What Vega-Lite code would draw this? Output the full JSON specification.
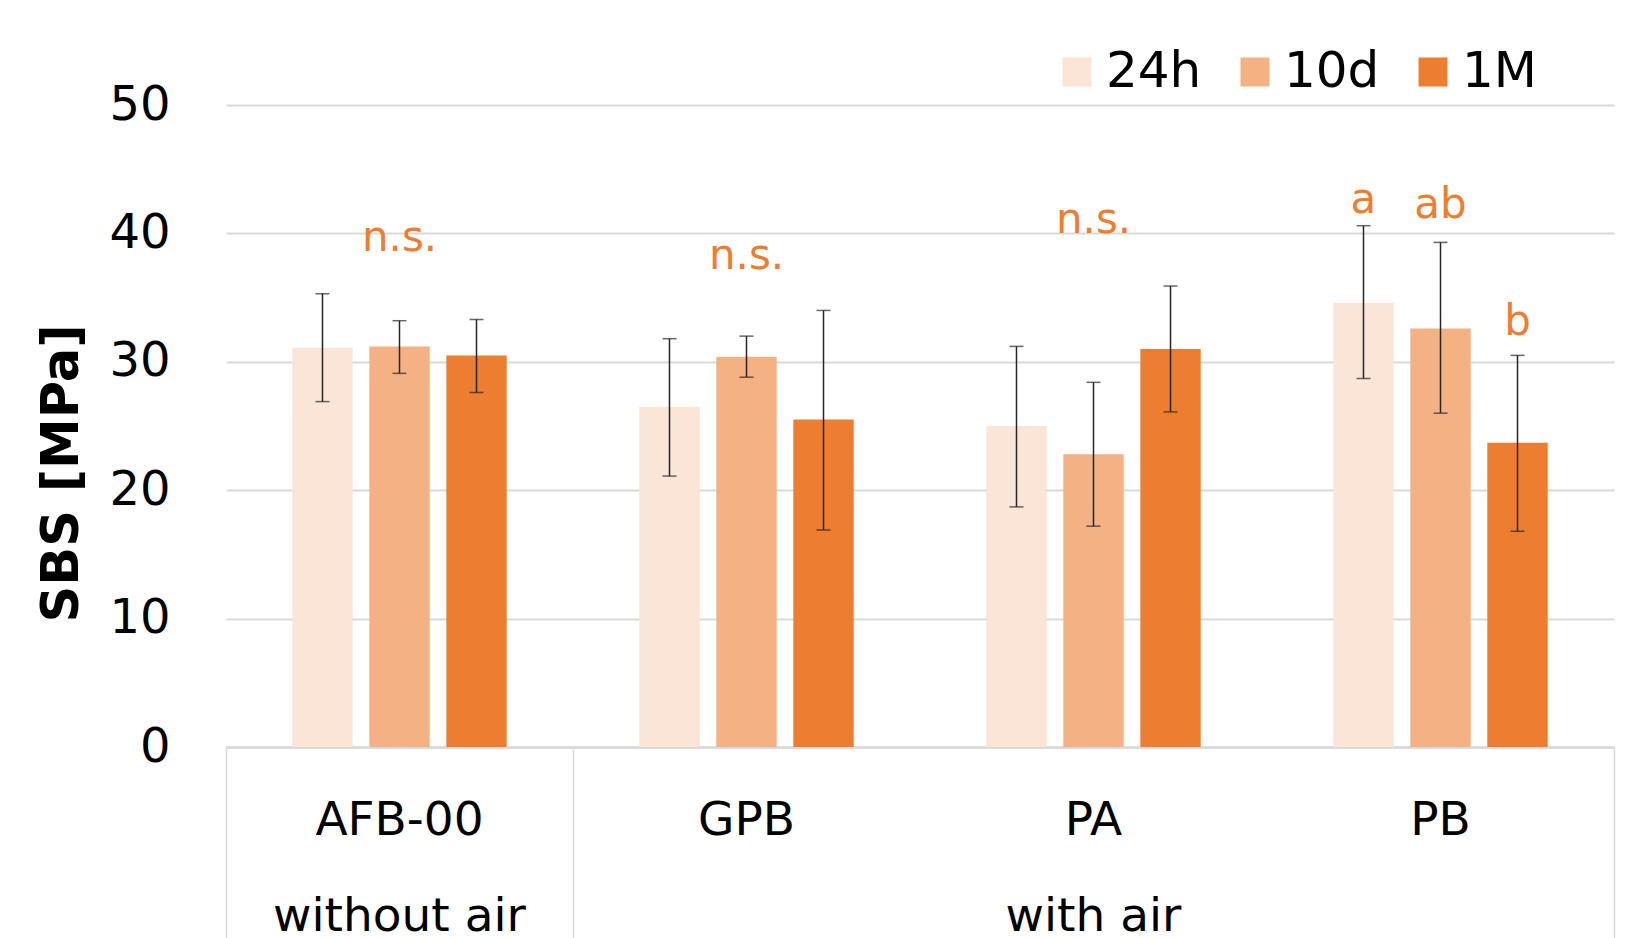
{
  "$schema": "https://vega.github.io/schema/vega-lite/v6.json",
  "width": 1388,
  "height": 642,
  "autosize": {"type": "none"},
  "padding": {"left": 226, "top": 105, "right": 17, "bottom": 191},
  "background": "white",
  "config": {"view": {"stroke": null}, "font": "DejaVu Sans"},
  "datasets": {
    "bars": [
      {"group": "AFB-00", "time": "24h", "mean": 31.1, "lo": 26.9, "hi": 35.3},
      {"group": "AFB-00", "time": "10d", "mean": 31.2, "lo": 29.1, "hi": 33.2},
      {"group": "AFB-00", "time": "1M", "mean": 30.5, "lo": 27.6, "hi": 33.3},
      {"group": "GPB", "time": "24h", "mean": 26.5, "lo": 21.1, "hi": 31.8},
      {"group": "GPB", "time": "10d", "mean": 30.4, "lo": 28.8, "hi": 32.0},
      {"group": "GPB", "time": "1M", "mean": 25.5, "lo": 16.9, "hi": 34.0},
      {"group": "PA", "time": "24h", "mean": 25.0, "lo": 18.7, "hi": 31.2},
      {"group": "PA", "time": "10d", "mean": 22.8, "lo": 17.2, "hi": 28.4},
      {"group": "PA", "time": "1M", "mean": 31.0, "lo": 26.1, "hi": 35.9},
      {"group": "PB", "time": "24h", "mean": 34.6, "lo": 28.7, "hi": 40.6},
      {"group": "PB", "time": "10d", "mean": 32.6, "lo": 26.0, "hi": 39.3},
      {"group": "PB", "time": "1M", "mean": 23.7, "lo": 16.8, "hi": 30.5}
    ],
    "ns": [
      {"group": "AFB-00", "label": "n.s.", "val": 38.6},
      {"group": "GPB", "label": "n.s.", "val": 37.2},
      {"group": "PA", "label": "n.s.", "val": 40.0}
    ],
    "letters": [
      {"group": "PB", "time": "24h", "label": "a", "val": 41.6},
      {"group": "PB", "time": "10d", "label": "ab", "val": 41.2},
      {"group": "PB", "time": "1M", "label": "b", "val": 32.1}
    ]
  },
  "layer": [
    {
      "data": {"name": "bars"},
      "mark": {"type": "bar"},
      "encoding": {
        "x": {
          "field": "group", "type": "nominal",
          "sort": ["AFB-00", "GPB", "PA", "PB"],
          "scale": {"paddingInner": 0, "paddingOuter": 0},
          "axis": {
            "orient": "bottom", "title": null, "ticks": false, "grid": false,
            "domainColor": "#d9d9d9", "domainWidth": 2.5,
            "labelFontSize": 47, "labelColor": "#000000", "labelPadding": 50,
            "labelLineHeight": 96, "labelAngle": 0, "labelLimit": 400,
            "labelExpr": "datum.label === 'AFB-00' ? ['AFB-00', 'without air'] : datum.label === 'PA' ? ['PA', 'with air'] : datum.label"
          }
        },
        "xOffset": {
          "field": "time", "type": "nominal", "sort": ["24h", "10d", "1M"],
          "scale": {"paddingInner": 0.216, "paddingOuter": 0.861}
        },
        "y": {
          "field": "mean", "type": "quantitative",
          "scale": {"domain": [0, 50], "nice": false},
          "axis": {
            "title": "SBS [MPa]", "titleFontSize": 51, "titleFontWeight": "bold",
            "titleColor": "#000000", "titlePadding": 20, "titleY": 368,
            "values": [0, 10, 20, 30, 40, 50],
            "labelFontSize": 48, "labelColor": "#000000", "labelPadding": 56,
            "ticks": false, "domain": false,
            "gridColor": "#d9d9d9", "gridWidth": 2
          }
        },
        "color": {
          "field": "time", "type": "nominal",
          "scale": {"domain": ["24h", "10d", "1M"], "range": ["#FBE5D6", "#F4B183", "#ED7D31"]},
          "legend": {
            "orient": "none", "legendX": 826, "legendY": -58,
            "direction": "horizontal", "title": null,
            "symbolType": "square", "symbolSize": 841, "symbolStrokeWidth": 0,
            "labelFontSize": 50, "labelColor": "#000000",
            "labelOffset": 4, "columnPadding": 28, "padding": 0
          }
        }
      }
    },
    {
      "data": {"name": "bars"},
      "mark": {"type": "rule", "color": "#262626", "strokeWidth": 1.5},
      "encoding": {
        "x": {"field": "group", "type": "nominal", "sort": ["AFB-00", "GPB", "PA", "PB"], "axis": null},
        "xOffset": {"field": "time", "type": "nominal", "sort": ["24h", "10d", "1M"]},
        "y": {"field": "lo", "type": "quantitative"},
        "y2": {"field": "hi"}
      }
    },
    {
      "data": {"name": "bars"},
      "mark": {"type": "tick", "orient": "horizontal", "color": "#262626", "size": 14, "thickness": 1.5},
      "encoding": {
        "x": {"field": "group", "type": "nominal", "sort": ["AFB-00", "GPB", "PA", "PB"], "axis": null},
        "xOffset": {"field": "time", "type": "nominal", "sort": ["24h", "10d", "1M"]},
        "y": {"field": "lo", "type": "quantitative"}
      }
    },
    {
      "data": {"name": "bars"},
      "mark": {"type": "tick", "orient": "horizontal", "color": "#262626", "size": 14, "thickness": 1.5},
      "encoding": {
        "x": {"field": "group", "type": "nominal", "sort": ["AFB-00", "GPB", "PA", "PB"], "axis": null},
        "xOffset": {"field": "time", "type": "nominal", "sort": ["24h", "10d", "1M"]},
        "y": {"field": "hi", "type": "quantitative"}
      }
    },
    {
      "data": {"name": "ns"},
      "mark": {"type": "text", "color": "#ED7D31", "fontSize": 42, "baseline": "alphabetic", "align": "center"},
      "encoding": {
        "x": {
          "field": "group", "type": "nominal", "sort": ["AFB-00", "GPB", "PA", "PB"],
          "axis": {
            "orient": "bottom", "bandPosition": 0, "labels": false, "domain": false,
            "grid": false, "title": null, "ticks": true, "tickSize": 195, "tickWidth": 1.5,
            "tickColor": {"condition": {"test": "datum.value === 'AFB-00' || datum.value === 'GPB'", "value": "#d9d9d9"}, "value": "transparent"}
          }
        },
        "y": {"field": "val", "type": "quantitative"},
        "text": {"field": "label"}
      }
    },
    {
      "data": {"name": "letters"},
      "mark": {"type": "text", "color": "#ED7D31", "fontSize": 42, "baseline": "alphabetic", "align": "center"},
      "encoding": {
        "x": {
          "field": "group", "type": "nominal", "sort": ["AFB-00", "GPB", "PA", "PB"],
          "axis": {
            "orient": "bottom", "bandPosition": 1, "labels": false, "domain": false,
            "grid": false, "title": null, "ticks": true, "tickSize": 195, "tickWidth": 1.5,
            "tickColor": {"condition": {"test": "datum.value === 'PB'", "value": "#d9d9d9"}, "value": "transparent"}
          }
        },
        "xOffset": {"field": "time", "type": "nominal", "sort": ["24h", "10d", "1M"]},
        "y": {"field": "val", "type": "quantitative"},
        "text": {"field": "label"}
      }
    }
  ],
  "resolve": {"axis": {"x": "independent"}}
}
